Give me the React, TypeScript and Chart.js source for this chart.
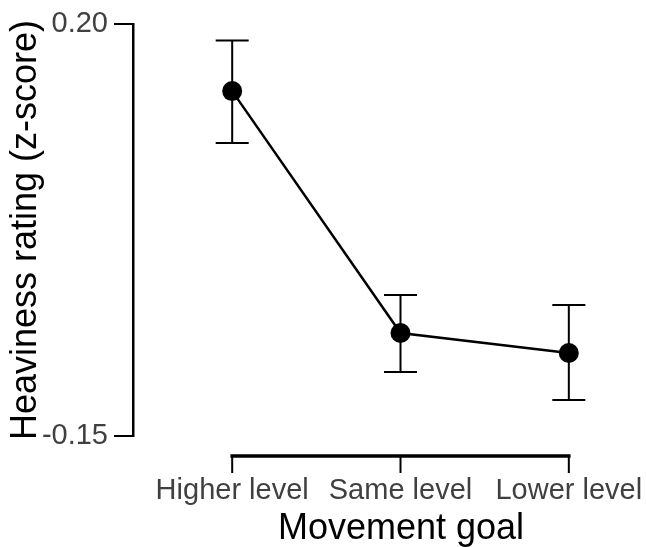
import React, { useEffect, useRef } from "react";
import { Chart, registerables } from "chart.js";

Chart.register(...registerables);

const categories = ["Higher level", "Same level", "Lower level"];
const means = [0.143, -0.0625, -0.0795];
const lowerCI = [0.099, -0.0957, -0.1194];
const upperCI = [0.186, -0.0302, -0.0387];
const yTickValues = [-0.15, 0.2];

const FONT = "'Liberation Sans', Arial, sans-serif";

const errorBarPlugin = {
  id: "errorBars",
  beforeDatasetsDraw(chart: any) {
    const { ctx, scales } = chart;
    const xs = scales.x;
    const ys = scales.y;
    ctx.save();
    ctx.strokeStyle = "#000";
    ctx.lineWidth = 2;
    const cap = 16.5;
    categories.forEach((_, i) => {
      const x = xs.getPixelForValue(i);
      const yl = ys.getPixelForValue(lowerCI[i]);
      const yu = ys.getPixelForValue(upperCI[i]);
      ctx.beginPath();
      ctx.moveTo(x, yu);
      ctx.lineTo(x, yl);
      ctx.moveTo(x - cap, yu);
      ctx.lineTo(x + cap, yu);
      ctx.moveTo(x - cap, yl);
      ctx.lineTo(x + cap, yl);
      ctx.stroke();
    });
    ctx.restore();
  },
  afterDraw(chart: any) {
    const { ctx, scales } = chart;
    const xs = scales.x;
    const axisY = xs.top + 20;
    ctx.save();
    ctx.strokeStyle = "#000";
    ctx.lineWidth = 3.5;
    ctx.lineCap = "square";
    ctx.beginPath();
    ctx.moveTo(xs.getPixelForValue(0), axisY);
    ctx.lineTo(xs.getPixelForValue(categories.length - 1), axisY);
    ctx.stroke();
    ctx.lineWidth = 2;
    ctx.lineCap = "butt";
    categories.forEach((_, i) => {
      const x = xs.getPixelForValue(i);
      ctx.beginPath();
      ctx.moveTo(x, axisY);
      ctx.lineTo(x, axisY + 17);
      ctx.stroke();
    });
    ctx.restore();
  },
};

export default function App() {
  const ref = useRef<HTMLCanvasElement | null>(null);

  useEffect(() => {
    if (!ref.current) return;
    const chart = new Chart(ref.current, {
      type: "line",
      data: {
        datasets: [
          {
            data: means.map((m, i) => ({ x: i, y: m })),
            borderColor: "#000",
            borderWidth: 2.5,
            backgroundColor: "#000",
            pointBackgroundColor: "#000",
            pointBorderColor: "#000",
            pointRadius: 10,
            pointBorderWidth: 0,
            tension: 0,
          },
        ],
      },
      options: {
        animation: false,
        responsive: false,
        devicePixelRatio: 1,
        events: [],
        layout: { padding: { top: 24, left: 0, right: 0, bottom: 0 } },
        plugins: { legend: { display: false }, tooltip: { enabled: false } },
        scales: {
          x: {
            type: "linear",
            min: -0.5893,
            max: 2.5952,
            afterFit: (s: any) => {
              s.height = 111;
              s.paddingLeft = 0;
              s.paddingRight = 0;
            },
            afterBuildTicks: (s: any) => {
              s.ticks = categories.map((_, i) => ({ value: i }));
            },
            grid: { display: false, drawTicks: false },
            border: { display: false },
            ticks: {
              autoSkip: false,
              maxRotation: 0,
              minRotation: 0,
              padding: 38,
              color: "#404040",
              font: { family: FONT, size: 29 },
              callback: (v: any) => categories[v as number] ?? "",
            },
            title: {
              display: true,
              text: "Movement goal",
              color: "#000",
              font: { family: FONT, size: 36, lineHeight: 1 },
              padding: { top: 0, bottom: 0 },
            },
          },
          y: {
            type: "linear",
            min: -0.15,
            max: 0.2,
            afterFit: (s: any) => {
              s.width = 133;
              s.paddingTop = 0;
              s.paddingBottom = 0;
            },
            afterBuildTicks: (s: any) => {
              s.ticks = yTickValues.map((v) => ({ value: v }));
            },
            grid: {
              display: true,
              drawOnChartArea: false,
              drawTicks: true,
              tickLength: 19,
              color: "#000",
              lineWidth: 2,
            },
            border: { display: true, color: "#000", width: 2.5 },
            ticks: {
              padding: 6,
              color: "#404040",
              font: { family: FONT, size: 29 },
              callback: (v: any) => Number(v).toFixed(2),
            },
            title: {
              display: true,
              text: "Heaviness rating (z-score)",
              color: "#000",
              font: { family: FONT, size: 36, lineHeight: 1 },
              padding: { top: 8, bottom: 0 },
            },
          },
        },
      },
      plugins: [errorBarPlugin],
    });
    return () => chart.destroy();
  }, []);

  return (
    <div
      style={{
        position: "absolute",
        left: 0,
        top: 0,
        width: 646,
        height: 547,
        overflow: "hidden",
        background: "#fff",
      }}
    >
      <canvas ref={ref} width={679} height={547} style={{ display: "block" }} />
    </div>
  );
}
